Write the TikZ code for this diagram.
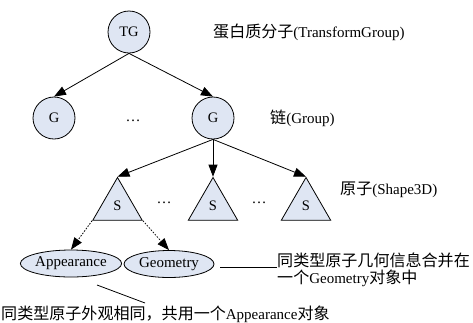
\documentclass[tikz,border=0pt]{standalone}
\usepackage{fontspec}
\setmainfont{Liberation Serif}
\newfontfamily\cjk[Scale=1.07]{Noto Sans CJK SC}
\usetikzlibrary{shapes.geometric,arrows.meta}
\definecolor{nodefill}{RGB}{223,230,243}
\begin{document}
\begin{tikzpicture}[x=1pt,y=-1pt,
  every node/.style={font=\fontsize{15}{18}\selectfont},
  nd/.style={draw, line width=0.8pt, fill=nodefill},
  circ/.style={nd, circle, minimum size=42pt, inner sep=0pt, font=\fontsize{14.5}{17}\selectfont},
  tri/.style={nd, regular polygon, regular polygon sides=3, minimum size=57pt, inner sep=0pt, font=\fontsize{14.5}{17}\selectfont},
  ell/.style={nd, ellipse, minimum height=27pt, inner sep=0pt},
  arr/.style={line width=0.8pt, -{Triangle[length=12pt,width=9pt]}},
  darr/.style={arr, dash pattern=on 1.6pt off 1.4pt},
  lbl/.style={anchor=west, inner sep=0pt},
  dots/.style={anchor=base, inner sep=0pt},
  ln/.style={line width=0.8pt}]
\useasboundingbox (0,0) rectangle (473,322);

% nodes
\node[circ] (tg) at (129,32) {TG};
\node[circ] (g1) at (54,118) {G};
\node[circ] (g2) at (213,118) {G};
\node[dots] (d1) at (133,121) {…};

\node[tri] (s1) at (117.5,206) {S};
\node[tri] (s2) at (213,206) {S};
\node[tri] (s3) at (306,206) {S};
\node[dots] (d2) at (164,203) {…};
\node[dots] (d3) at (259,203) {…};

\node[ell, minimum width=92pt] (app) at (71,263.5) {Appearance};
\node[ell, minimum width=90pt] (geo) at (169,264) {Geometry};

% labels
\node[lbl] (t1) at (213,32) {{\cjk 蛋白质分子}(TransformGroup)};
\node[lbl] (t2) at (270,118) {{\cjk 链}(Group)};
\node[lbl] (t3) at (340,190) {{\cjk 原子}(Shape3D)};
\node[lbl] (t4) at (277,260) {\cjk 同类型原子几何信息合并在};
\node[lbl] (t5) at (277,278) {{\cjk 一个}Geometry{\cjk 对象中}};
\node[lbl] (t6) at (1,314) {{\cjk 同类型原子外观相同，共用一个}Appearance{\cjk 对象}};

% connectors
\draw[arr] (tg.south) -- (g1.north);
\draw[arr] (tg.south) -- (g2.north);
\draw[arr] (g2.south) -- (s1.corner 1);
\draw[arr] (g2.south) -- (s2.corner 1);
\draw[arr] (g2.south) -- (s3.corner 1);
\draw[darr] (s1.corner 2) -- (app.north);
\draw[darr] (s1.corner 3) -- (geo.north);

\coordinate (c1) at (220,267.5);
\coordinate (c2) at (277,267.5);
\draw[ln] (c1) -- (c2);
\coordinate (c3) at (97,285);
\coordinate (c4) at (145,303);
\draw[ln] (c3) -- (c4);
\end{tikzpicture}
\end{document}
